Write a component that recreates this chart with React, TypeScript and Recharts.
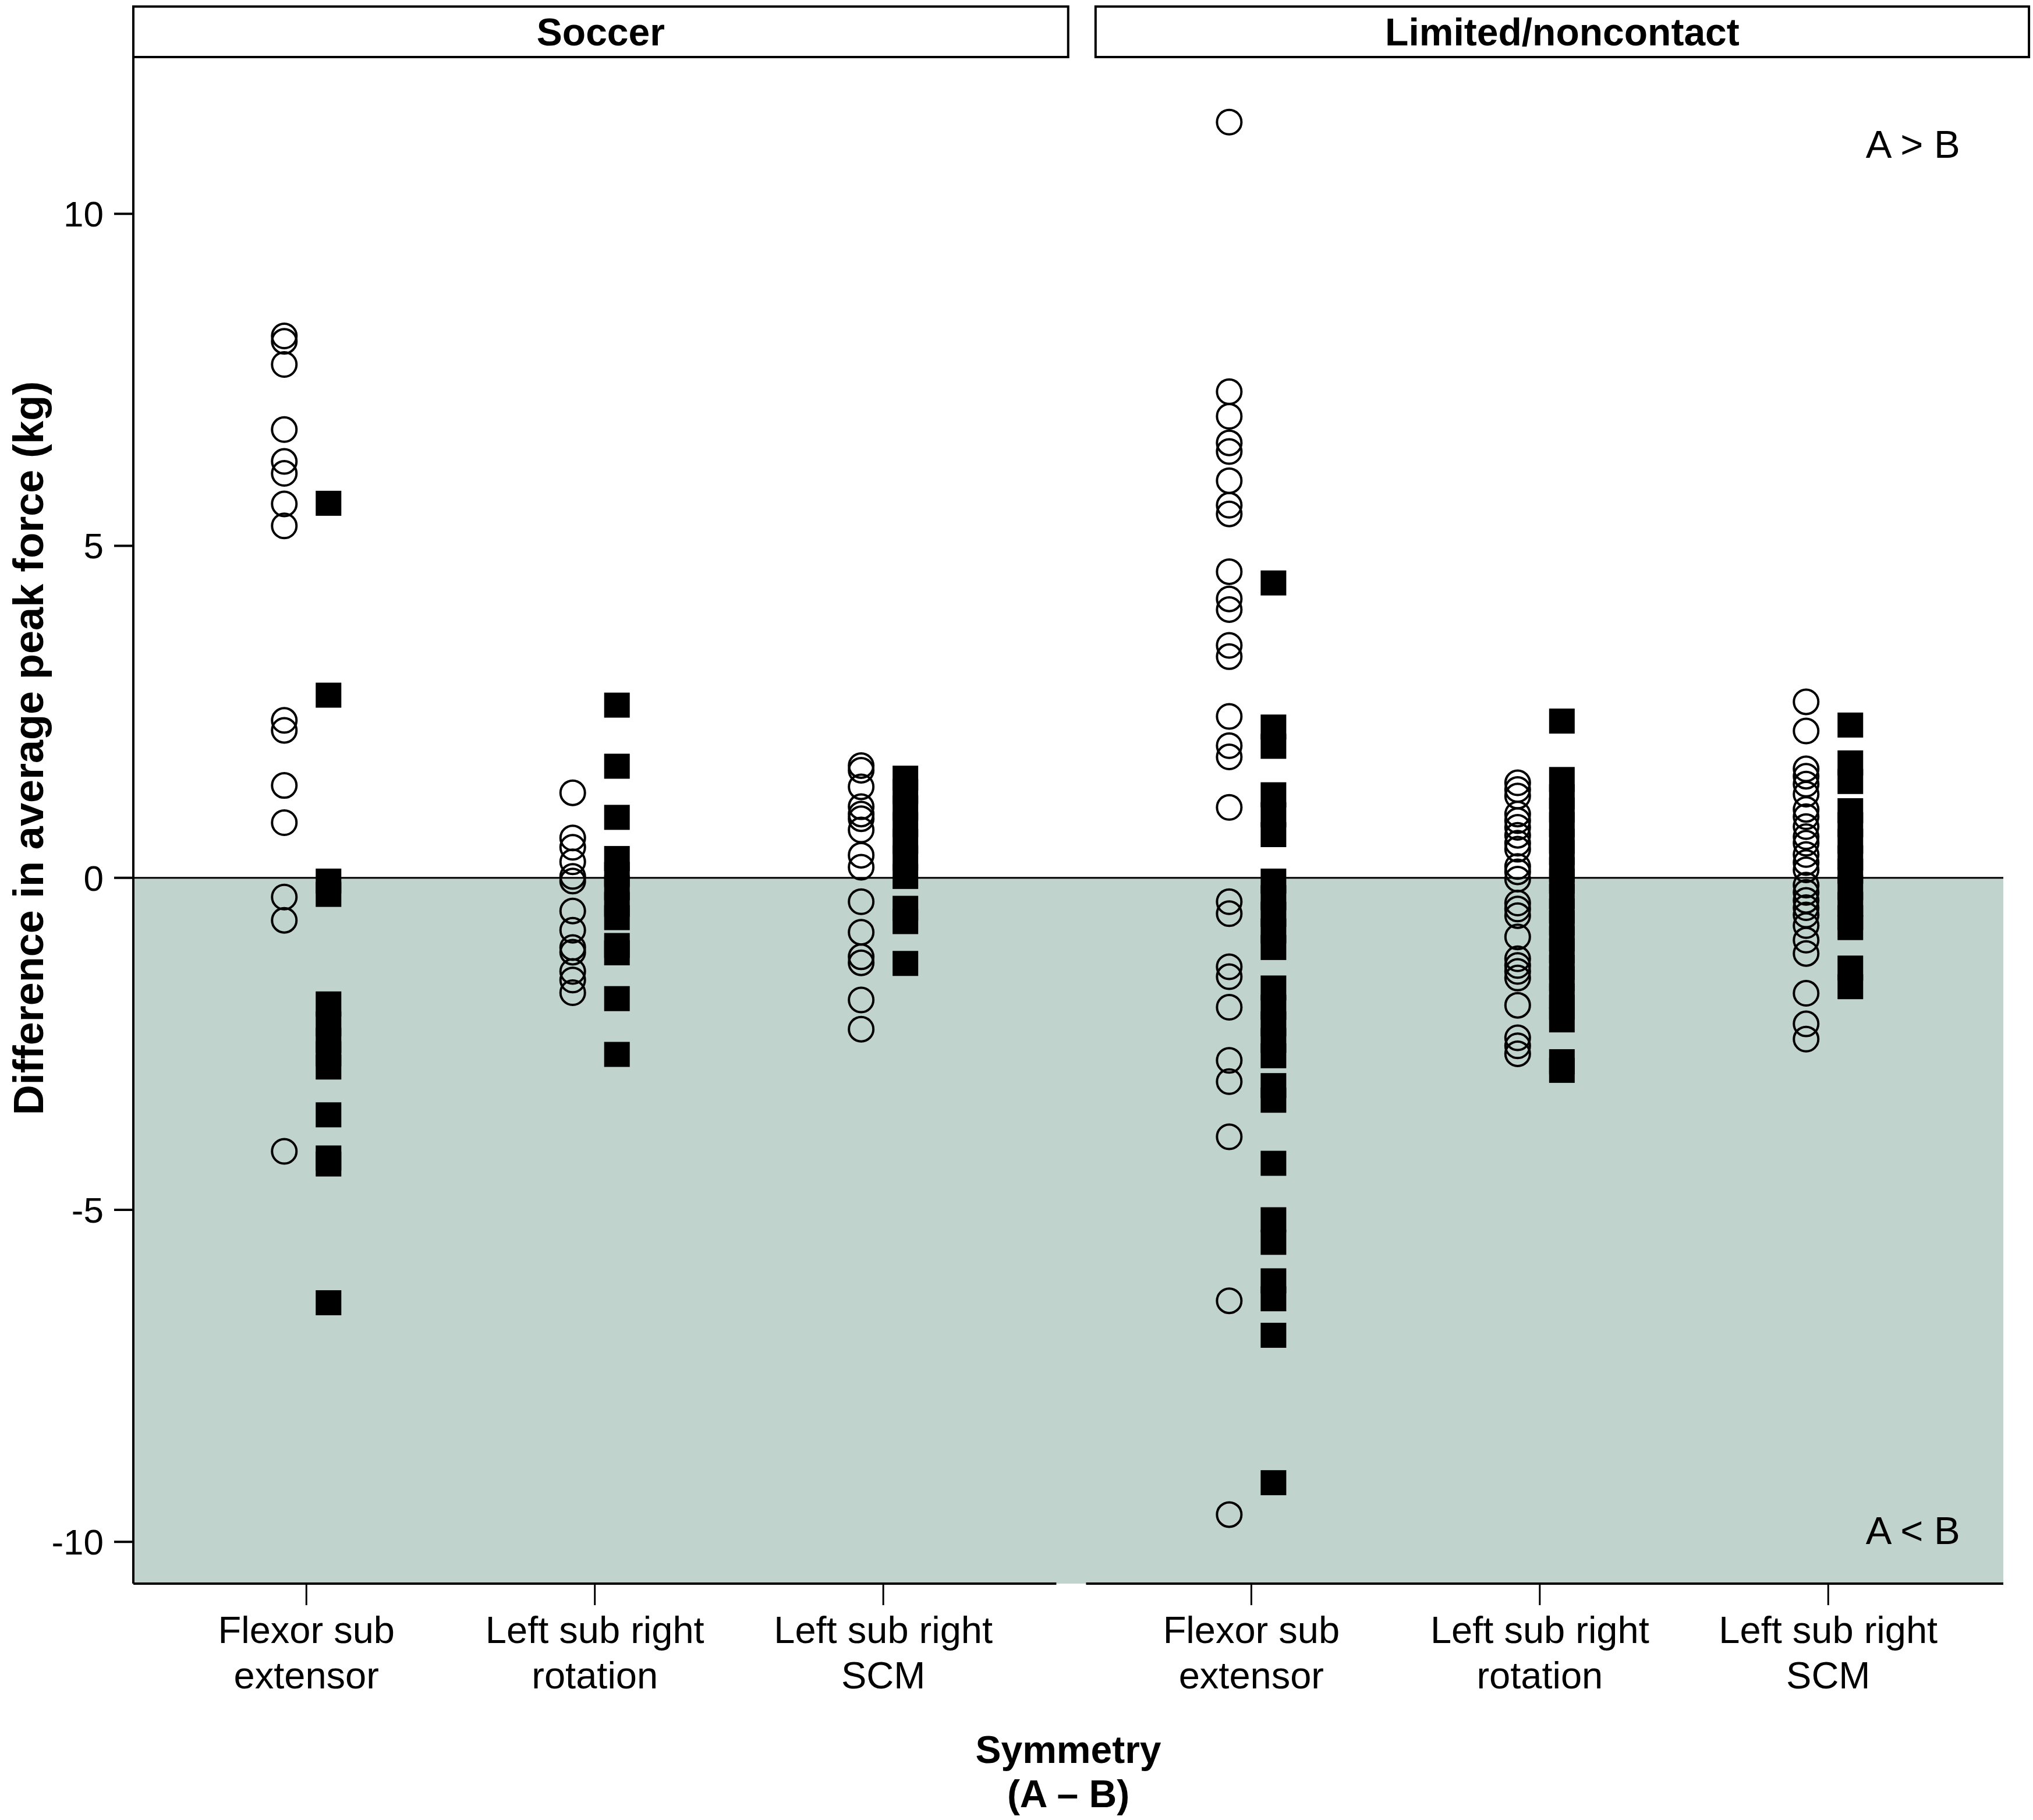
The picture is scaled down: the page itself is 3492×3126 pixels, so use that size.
import React from 'react';
import {
  ScatterChart,
  Scatter,
  XAxis,
  YAxis,
  ReferenceArea,
  ReferenceLine,
  ReferenceDot,
  Label,
} from 'recharts';

// ---------- data ----------
const panels = ['Soccer', 'Limited/noncontact'];
const measures = ['Flexor sub extensor', 'Left sub right rotation', 'Left sub right SCM'];
const tickLabelLines = [
  ['Flexor sub', 'extensor'],
  ['Left sub right', 'rotation'],
  ['Left sub right', 'SCM'],
];
const yTicks = [-10, -5, 0, 5, 10];

const soccerFlexorCircles = [8.16, 8.08, 7.73, 6.75, 6.27, 6.09, 5.63, 5.3, 2.37, 2.22, 1.39, 0.83, -0.29, -0.64, -4.12];
const soccerFlexorSquares = [5.64, 2.75, -0.05, -0.25, -1.9, -2.2, -2.45, -2.65, -2.85, -3.57, -4.22, -4.31, -6.4];

const soccerRotationCircles = [1.28, 0.6, 0.46, 0.24, 0.02, -0.05, -0.5, -0.79, -1.05, -1.12, -1.41, -1.54, -1.73];
const soccerRotationSquares = [2.6, 1.68, 0.91, 0.29, 0.05, -0.15, -0.4, -0.6, -1.02, -1.13, -1.82, -2.66];

const soccerScmCircles = [1.69, 1.62, 1.37, 1.07, 0.96, 0.89, 0.72, 0.34, 0.16, -0.36, -0.82, -1.19, -1.28, -1.84, -2.28];
const soccerScmSquares = [1.5, 1.3, 1.05, 0.8, 0.55, 0.3, 0.02, -0.46, -0.66, -1.29];

const limitedFlexorCircles = [
  11.38, 7.32, 6.95, 6.55, 6.42, 5.98, 5.61, 5.48, 4.61, 4.2, 4.04, 3.5, 3.33, 2.43, 1.99, 1.82, 1.06,
  -0.36, -0.54, -1.34, -1.49, -1.95, -2.75, -3.07, -3.9, -6.37, -9.59,
];
const limitedFlexorSquares = [
  4.44, 2.27, 1.98, 1.25, 0.95, 0.65, -0.05, -0.3, -0.55, -0.8, -1.05, -1.66, -1.95, -2.2, -2.45, -2.68,
  -3.13, -3.35, -4.3, -5.15, -5.49, -6.07, -6.34, -6.89, -9.11,
];

const limitedRotationCircles = [
  1.43, 1.33, 1.23, 0.96, 0.86, 0.76, 0.64, 0.52, 0.43, 0.17, 0.09, -0.02, -0.38, -0.47, -0.57, -0.89,
  -1.22, -1.32, -1.41, -1.51, -1.92, -2.41, -2.53, -2.65,
];
const limitedRotationSquares = [
  2.36, 1.48, 1.22, 1.02, 0.8, 0.55, 0.38, 0.12, -0.05, -0.28, -0.5, -0.68, -0.92, -1.1, -1.35, -1.52,
  -1.78, -1.95, -2.14, -2.77, -2.9,
];

const limitedScmCircles = [
  2.65, 2.21, 1.64, 1.53, 1.41, 1.26, 1.03, 0.92, 0.77, 0.62, 0.52, 0.35, 0.23, 0.12, -0.11, -0.22,
  -0.34, -0.45, -0.56, -0.72, -0.94, -1.14, -1.74, -2.2, -2.43,
];
const limitedScmSquares = [2.3, 1.73, 1.45, 1.01, 0.8, 0.55, 0.3, 0.1, -0.15, -0.4, -0.6, -0.75, -1.36, -1.64];

const groups = [
  { panel: 0, measure: 0, circles: soccerFlexorCircles, squares: soccerFlexorSquares },
  { panel: 0, measure: 1, circles: soccerRotationCircles, squares: soccerRotationSquares },
  { panel: 0, measure: 2, circles: soccerScmCircles, squares: soccerScmSquares },
  { panel: 1, measure: 0, circles: limitedFlexorCircles, squares: limitedFlexorSquares },
  { panel: 1, measure: 1, circles: limitedRotationCircles, squares: limitedRotationSquares },
  { panel: 1, measure: 2, circles: limitedScmCircles, squares: limitedScmSquares },
];

// ---------- layout ----------
const W = 3492;
const H = 3126;
const FONT = '"Liberation Sans", Arial, Helvetica, sans-serif';
const X_MIN = 0.4;
const X_MAX = 6.883;
const Y_MIN = -10.63;
const Y_MAX = 12.36;
const STRIP_TOP = 13.12;
const groupX = [1, 2, 3, 4.276, 5.276, 6.276];
const panelStrips = [
  [X_MIN, 3.641],
  [3.736, 6.972],
];
const axisSegments = [
  [X_MIN, 3.6],
  [3.703, X_MAX],
];
const DOT_OFFSET = 38;

const circleData = groups.flatMap((g, i) => g.circles.map((v) => ({ x: groupX[i], y: v, measure: measures[g.measure], panel: panels[g.panel] })));
const squareData = groups.flatMap((g, i) => g.squares.map((v) => ({ x: groupX[i], y: v, measure: measures[g.measure], panel: panels[g.panel] })));

const CircleShape = (props: any) => {
  const { cx, cy } = props;
  if (cx == null || cy == null) return null;
  return <circle cx={cx - DOT_OFFSET} cy={cy} r={21} fill="none" stroke="#000" strokeWidth={4} />;
};

const SquareShape = (props: any) => {
  const { cx, cy } = props;
  if (cx == null || cy == null) return null;
  return <rect x={cx + DOT_OFFSET - 22} y={cy - 21.5} width={44} height={43} fill="#000" />;
};

const XTick = (props: any) => {
  const { x, y, payload } = props;
  const idx = groupX.findIndex((g) => Math.abs(g - payload.value) < 1e-6);
  const lines = tickLabelLines[groups[idx] ? groups[idx].measure : 0];
  return (
    <text x={x} y={y} textAnchor="middle" fontSize={65} fontFamily={FONT} fill="#000">
      <tspan x={x} dy={65}>{lines[0]}</tspan>
      <tspan x={x} dy={78}>{lines[1]}</tspan>
    </text>
  );
};

const XTitle = () => (
  <text x={1835} y={3028} textAnchor="middle" fontSize={66} fontWeight="bold" fontFamily={FONT} fill="#000">
    <tspan x={1835} y={3028}>Symmetry</tspan>
    <tspan x={1835} y={3104}>(A – B)</tspan>
  </text>
);

const YTitle = () => (
  <text
    x={49}
    y={1285}
    transform="rotate(-90 49 1285)"
    textAnchor="middle"
    dominantBaseline="central"
    fontSize={72}
    fontWeight="bold"
    fontFamily={FONT}
    fill="#000"
  >
    Difference in average peak force (kg)
  </text>
);

export default function App() {
  return (
    <div style={{ position: 'absolute', left: 0, top: 0, width: W, height: H, background: '#fff' }}>
      <ScatterChart width={W} height={H} margin={{ top: 98, right: 51, bottom: 0, left: 0 }}>
        <ReferenceArea x1={X_MIN} x2={X_MAX} y1={Y_MIN} y2={0} fill="#C0D3CD" fillOpacity={1} stroke="none" ifOverflow="visible" />
        <ReferenceLine y={0} stroke="#000" strokeWidth={3} />
        {panelStrips.map((s, i) => (
          <ReferenceArea
            key={'strip' + i}
            x1={s[0]}
            x2={s[1]}
            y1={Y_MAX}
            y2={STRIP_TOP}
            fill="#fff"
            fillOpacity={1}
            stroke="#000"
            strokeWidth={4}
            ifOverflow="visible"
            label={{ value: panels[i], position: 'center', fontSize: 66, fontWeight: 'bold', fill: '#000', fontFamily: FONT }}
          />
        ))}
        {axisSegments.map((s, i) => (
          <ReferenceLine
            key={'ax' + i}
            segment={[{ x: s[0], y: Y_MIN }, { x: s[1], y: Y_MIN }]}
            stroke="#000"
            strokeWidth={4}
            ifOverflow="visible"
          />
        ))}
        <XAxis
          type="number"
          dataKey="x"
          domain={[X_MIN, X_MAX]}
          ticks={groupX}
          allowDataOverflow
          axisLine={false}
          tickLine={{ stroke: '#000', strokeWidth: 3 }}
          tickSize={37}
          tickMargin={0}
          height={406}
          tick={<XTick />}
          interval={0}
        >
          <Label content={<XTitle />} />
        </XAxis>
        <YAxis
          type="number"
          dataKey="y"
          domain={[Y_MIN, Y_MAX]}
          ticks={yTicks}
          allowDataOverflow
          width={229}
          axisLine={{ stroke: '#000', strokeWidth: 4 }}
          tickLine={{ stroke: '#000', strokeWidth: 4 }}
          tickSize={33}
          tickMargin={18}
          tick={{ fontSize: 62, fill: '#000', fontFamily: FONT }}
          interval={0}
        >
          <Label content={<YTitle />} />
        </YAxis>
        <Scatter data={circleData} shape={<CircleShape />} isAnimationActive={false} />
        <Scatter data={squareData} shape={<SquareShape />} isAnimationActive={false} />
        <ReferenceDot x={6.733} y={11.05} r={0} fill="none" stroke="none" label={{ value: 'A > B', position: 'left', offset: 0, fontSize: 67, fill: '#000', fontFamily: FONT }} />
        <ReferenceDot x={6.733} y={-9.825} r={0} fill="none" stroke="none" label={{ value: 'A < B', position: 'left', offset: 0, fontSize: 67, fill: '#000', fontFamily: FONT }} />
      </ScatterChart>
    </div>
  );
}
